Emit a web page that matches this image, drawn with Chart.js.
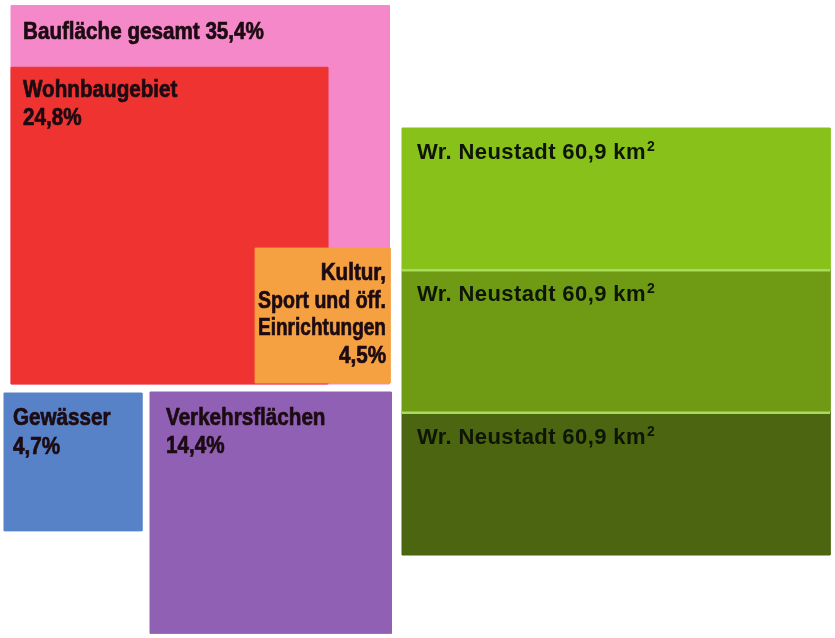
<!DOCTYPE html>
<html>
<head>
<meta charset="utf-8">
<title>Flächennutzung Wr. Neustadt</title>
<script src="https://cdn.jsdelivr.net/npm/chart.js@4/dist/chart.umd.min.js"></script>
<style>
  html, body { margin: 0; padding: 0; background: #ffffff; }
  #wrap { width: 835px; height: 638px; }
</style>
</head>
<body>
<div id="wrap"><canvas id="area_canvas" width="835" height="638"></canvas></div>
<script>
// Anteile an der Gesamtfläche (Prozent)
const categories = ['Baufläche gesamt', 'Wohnbaugebiet', 'Kultur,\nSport und öff.\nEinrichtungen', 'Gewässer', 'Verkehrsflächen'];
const shares = [35.4, 24.8, 4.5, 4.7, 14.4];
const share_colors = ['#f588c8', '#ee3330', '#f5a041', '#5782c8', '#8f60b4'];

// Gesamtfläche, dreimal als Band gezeigt
const total_name = 'Wr. Neustadt';
const total_km2 = [60.9, 60.9, 60.9];
const total_colors = ['#87c11a', '#6f9a14', '#4b6510'];

// side length (axis units) per sqrt(percent), so square area ~ share
const SIDE_PER_ROOT = 63.6;
// the labels use a condensed look: bold face squeezed sideways
const CONDENSE = 0.86;

// where each square is pinned: corner + point, and label placement
const square_layout = [
  { corner: 'bl', at: [11, 384], inline: true, pad_x: 12, first: 33, step: 28, align: 'left' },
  { corner: 'bl', at: [11, 384], pad_x: 12, first: 30, step: 28, align: 'left' },
  { corner: 'br', at: [390, 383], pad_x: 4, first: 32, step: 27.7, align: 'right', fit: 128 },
  { corner: 'tl', at: [4, 393], pad_x: 9, first: 32, step: 29, align: 'left' },
  { corner: 'tl', at: [150, 392], pad_x: 16, first: 33, step: 28, align: 'left' }
];
const band_box = { left: 402, right: 830, top: 128, bottom: 555 };

/**
 * Computes the square for one share.
 * @param {number} share percent value.
 * @param {object} layout the pinning info.
 * @return {object} left, right, top, bottom in axis units.
 */
function square_bounds(share, layout) {
  const side = SIDE_PER_ROOT * Math.sqrt(share);
  const [ax, ay] = layout.at;
  const left = layout.corner === 'br' ? ax - side : ax;
  const top = layout.corner === 'tl' ? ay : ay - side;
  return { left: left, right: left + side, top: top, bottom: top + side };
}

function band_bounds(idx) {
  const h = (band_box.bottom - band_box.top) / total_km2.length;
  return { left: band_box.left, right: band_box.right, top: band_box.top + idx * h, bottom: band_box.top + (idx + 1) * h };
}

function rect_points(b) {
  return [
    { x: b.left, y: b.top }, { x: b.right, y: b.top },
    { x: b.right, y: b.bottom }, { x: b.left, y: b.bottom },
    { x: b.left, y: b.top }
  ];
}

function format_pct(v) {
  return v.toFixed(1).replace('.', ',') + '%';
}

const square_boxes = shares.map((s, i) => square_bounds(s, square_layout[i]));
const band_boxes = total_km2.map((v, i) => band_bounds(i));

const datasets = [];
shares.forEach((s, i) => {
  datasets.push({
    label: categories[i],
    data: rect_points(square_boxes[i]),
    showLine: true,
    fill: 'shape',
    backgroundColor: share_colors[i],
    borderColor: share_colors[i],
    borderWidth: 1,
    pointRadius: 0,
    order: 20 - i
  });
});
total_km2.forEach((v, i) => {
  datasets.push({
    label: total_name + ' ' + v,
    data: rect_points(band_boxes[i]),
    showLine: true,
    fill: 'shape',
    backgroundColor: total_colors[i],
    borderColor: total_colors[i],
    borderWidth: 1,
    pointRadius: 0,
    order: 5 - i
  });
});
// light separators between the bands
band_boxes.slice(1).forEach((b) => {
  datasets.push({
    label: 'divider',
    data: [{ x: b.left, y: b.top }, { x: b.right, y: b.top }],
    showLine: true,
    fill: false,
    borderColor: '#a9dc5e',
    borderWidth: 2.5,
    pointRadius: 0,
    order: 0
  });
});

/**
 * Draws the text labels inside the boxes, placed through the chart scales.
 */
const box_label_plugin = {
  id: 'box_labels',
  afterDatasetsDraw(chart) {
    const ctx = chart.ctx;
    const sx = chart.scales.x;
    const sy = chart.scales.y;
    ctx.save();
    ctx.textBaseline = 'alphabetic';

    // shares, condensed heavy bold
    ctx.font = 'bold 24px "Liberation Sans", Arial, sans-serif';
    ctx.fillStyle = '#1c0b12';
    ctx.strokeStyle = '#1c0b12';
    ctx.lineWidth = 0.7;
    shares.forEach((s, i) => {
      const lay = square_layout[i];
      const b = square_boxes[i];
      let lines = categories[i].split('\n');
      if (lay.inline) {
        lines[lines.length - 1] += ' ' + format_pct(s);
      } else {
        lines.push(format_pct(s));
      }
      const x = lay.align === 'right'
        ? sx.getPixelForValue(b.right - lay.pad_x)
        : sx.getPixelForValue(b.left + lay.pad_x);
      ctx.save();
      ctx.translate(x, 0);
      ctx.scale(CONDENSE, 1);
      ctx.textAlign = lay.align;
      lines.forEach((line, k) => {
        const y = sy.getPixelForValue(b.top + lay.first + k * lay.step);
        if (lay.fit) {
          const mw = lay.fit / CONDENSE;
          ctx.fillText(line, 0, y, mw);
          ctx.strokeText(line, 0, y, mw);
        } else {
          ctx.fillText(line, 0, y);
          ctx.strokeText(line, 0, y);
        }
      });
      ctx.restore();
    });

    // totals, regular bold with superscript 2
    ctx.textAlign = 'left';
    ctx.fillStyle = '#0e1506';
    ctx.letterSpacing = '0.4px';
    total_km2.forEach((v, i) => {
      const b = band_boxes[i];
      const x = sx.getPixelForValue(b.left + 15);
      const y = sy.getPixelForValue(b.top + 31);
      const main = total_name + ' ' + v.toFixed(1).replace('.', ',') + ' km';
      ctx.font = 'bold 22px "Liberation Sans", Arial, sans-serif';
      ctx.fillText(main, x, y);
      const w = ctx.measureText(main).width;
      ctx.font = 'bold 14px "Liberation Sans", Arial, sans-serif';
      ctx.fillText('2', x + w + 1, y - 8);
    });
    ctx.restore();
  }
};

new Chart(document.getElementById('area_canvas'), {
  type: 'scatter',
  data: { datasets: datasets },
  options: {
    responsive: false,
    animation: false,
    layout: { padding: 0 },
    plugins: {
      legend: { display: false },
      tooltip: { enabled: false }
    },
    scales: {
      x: { type: 'linear', min: 0, max: 835, display: false },
      y: { type: 'linear', min: 0, max: 638, reverse: true, display: false }
    }
  },
  plugins: [box_label_plugin]
});
</script>
</body>
</html>
